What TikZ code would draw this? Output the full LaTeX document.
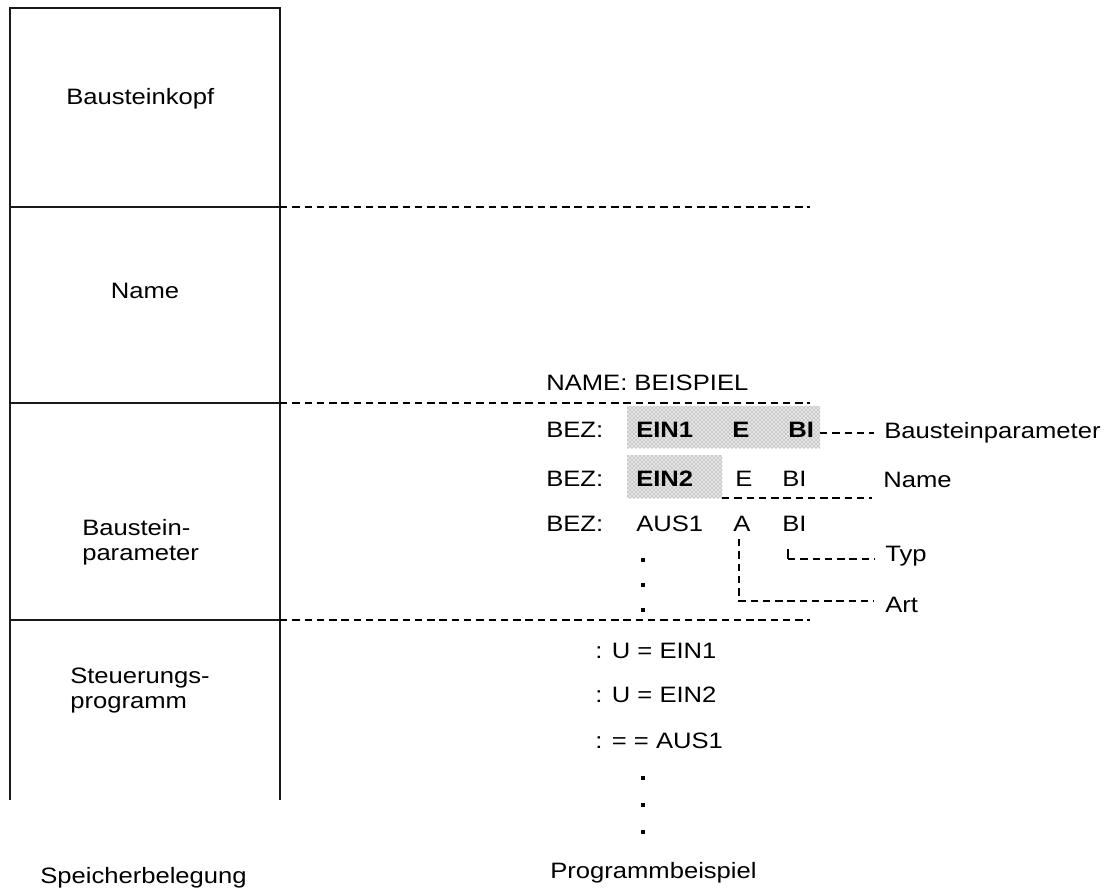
\documentclass[tikz,border=0pt]{standalone}
\usepackage{fontspec}
\setmainfont{Liberation Sans}[FakeStretch=1.15]
\usetikzlibrary{patterns}
\begin{document}
\begin{tikzpicture}[x=0.75pt,y=-0.75pt,
  txt/.style={inner sep=0pt,anchor=base west,font=\fontsize{16.7}{20}\selectfont},
  ctxt/.style={inner sep=0pt,anchor=base,font=\fontsize{16.7}{20}\selectfont},
  btxt/.style={txt,font=\fontsize{16.7}{20}\selectfont\bfseries},
  frame/.style={line width=1.4pt,black!90},
  sep/.style={line width=1pt,dash pattern=on 5.6pt off 3.6pt},
  lead/.style={line width=0.9pt,dash pattern=on 5.6pt off 3.6pt},
  dot/.style={fill=black,inner sep=0pt,minimum size=3pt}]
\useasboundingbox (0,0) rectangle (1106,892);
% frame
\coordinate (tl) at (10,8); \coordinate (tr) at (280,8);
\coordinate (bl) at (10,800); \coordinate (br) at (280,800);
\draw[frame] (bl) -- (tl) -- (tr) -- (br);
\coordinate (s1l) at (10,207); \coordinate (s1m) at (280,207); \coordinate (s1r) at (810,207);
\coordinate (s2l) at (10,403); \coordinate (s2m) at (280,403); \coordinate (s2r) at (810,403);
\coordinate (s3l) at (10,620); \coordinate (s3m) at (280,620); \coordinate (s3r) at (810,620);
\draw[frame] (s1l) -- (s1m); \draw[sep] (s1m) -- (s1r);
\draw[frame] (s2l) -- (s2m); \draw[sep] (s2m) -- (s2r);
\draw[frame] (s3l) -- (s3m); \draw[sep] (s3m) -- (s3r);
% left labels
\node[txt] (kopf) at (66,104) {Bausteinkopf};
\node[ctxt] (nm) at (145,298) {Name};
\node[txt] (bp1) at (82,535) {Baustein-};
\node[txt] (bp2) at (82,560) {parameter};
\node[txt] (sp1) at (70,683) {Steuerungs-};
\node[txt] (sp2) at (70,708) {programm};
\node[txt] (speich) at (40,883) {Speicherbelegung};
\node[txt] (progb) at (550,878) {Programmbeispiel};
% shaded areas
\fill[black!10] (627,406) rectangle (820,448);
\fill[pattern=crosshatch dots,pattern color=black!55] (627,406) rectangle (820,448);
\fill[black!10] (627,455) rectangle (722,498);
\fill[pattern=crosshatch dots,pattern color=black!55] (627,455) rectangle (722,498);
\coordinate (sh1e) at (820,433);
\coordinate (sh2c) at (722,498);
% program example
\node[txt] (nameb) at (546,390) {NAME:\ BEISPIEL};
\node[txt] (bez1) at (546,437) {BEZ:};
\node[btxt] (ein1) at (636,437) {EIN1};
\node[btxt] (e1) at (732,437) {E};
\node[btxt] (bi1) at (788,437) {BI};
\node[txt] (bez2) at (546,486) {BEZ:};
\node[btxt] (ein2) at (636,486) {EIN2};
\node[txt] (e2) at (735,486) {E};
\node[txt] (bi2) at (782,486) {BI};
\node[txt] (bez3) at (546,531) {BEZ:};
\node[txt] (aus1) at (636,531) {AUS1};
\node[txt] (a3) at (733,531) {A};
\node[txt] (bi3) at (782,531) {BI};
\node[dot] (d1) at (643,560) {};
\node[dot] (d2) at (643,585) {};
\node[dot] (d3) at (643,610) {};
\node[txt] (p1) at (595,658) {: U = EIN1};
\node[txt] (p2) at (595,702) {: U = EIN2};
\node[txt] (p3) at (595,748) {: = = AUS1};
\node[dot] (d4) at (643,778) {};
\node[dot] (d5) at (643,805) {};
\node[dot] (d6) at (643,832) {};
% right labels
\node[txt] (lbp) at (884,438) {Bausteinparameter};
\node[txt] (lname) at (883,487) {Name};
\node[txt] (ltyp) at (885,561) {Typ};
\node[txt] (lart) at (885,612) {Art};
% leaders
\coordinate (lbpw) at (874,433);
\draw[lead] (sh1e) -- (lbpw);
\coordinate (lnamew) at (872,498);
\draw[lead] (sh2c) -- (lnamew);
\coordinate (typtop) at (788,549); \coordinate (typc) at (788,559); \coordinate (typw) at (874,559);
\draw[line width=0.9pt] (typtop) -- (typc);
\draw[lead] (typc) -- (typw);
\coordinate (arttop) at (739,539); \coordinate (artc) at (739,601); \coordinate (artw) at (874,601);
\draw[lead] (arttop) -- (artc) -- (artw);
\end{tikzpicture}
\end{document}
